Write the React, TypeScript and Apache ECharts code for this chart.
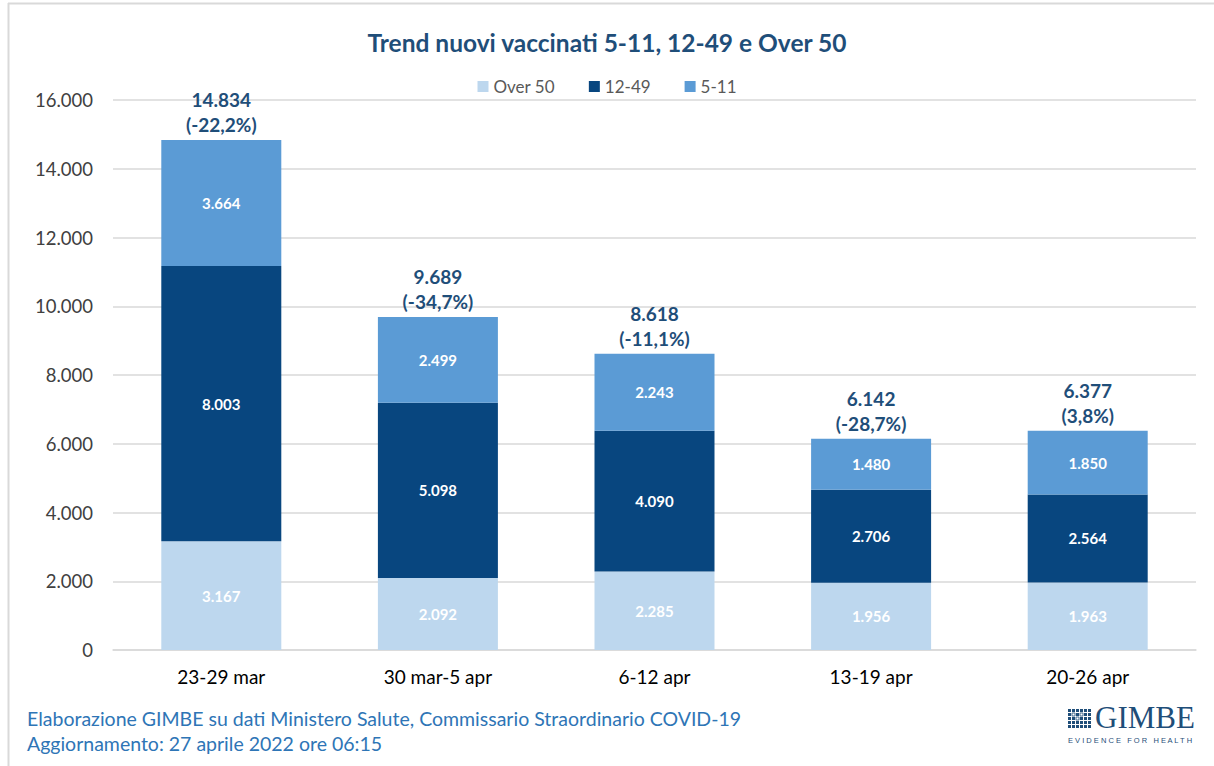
import React, { useEffect, useRef } from "react";
import * as echarts from "echarts";

const categories = ["23-29 mar", "30 mar-5 apr", "6-12 apr", "13-19 apr", "20-26 apr"];
const over50 = [3167, 2092, 2285, 1956, 1963];
const age12to49 = [8003, 5098, 4090, 2706, 2564];
const age5to11 = [3664, 2499, 2243, 1480, 1850];
const totals = [14834, 9689, 8618, 6142, 6377];
const pctChange = ["-22,2%", "-34,7%", "-11,1%", "-28,7%", "3,8%"];
const yTicks = { min: 0, max: 16000, interval: 2000 };

const FONT = "Lato, 'Noto Sans', sans-serif";
const fmt = (v: number) => String(v).replace(/\B(?=(\d{3})+(?!\d))/g, ".");

function logoIcon(): any[] {
  const els: any[] = [];
  const x0 = 1068, y0 = 709, s = 3, g = 4;
  for (let r = 0; r < 5; r++) {
    for (let c = 0; c < 6; c++) {
      const isCheck = (r === 1 && c === 1) || (r === 2 && c === 2) || (r === 1 && c === 3);
      els.push({
        type: "rect",
        shape: { x: x0 + c * g, y: y0 + r * g, width: s, height: s },
        style: { fill: isCheck ? "#ffffff" : "#1f4e79", stroke: isCheck ? "#1f4e79" : undefined, lineWidth: 0.8 },
        silent: true,
      });
    }
  }
  return els;
}

export default function App() {
  const ref = useRef<HTMLDivElement>(null);
  useEffect(() => {
    if (!ref.current) return;
    const chart = echarts.init(ref.current, null, { renderer: "svg" });
    const insideLabel = (color: string) => ({
      show: true,
      position: "inside" as const,
      color,
      fontFamily: FONT,
      fontWeight: "bold" as const,
      fontSize: 15,
      formatter: (p: any) => fmt(p.value),
    });
    chart.setOption({
      animation: false,
      backgroundColor: "#ffffff",
      title: {
        text: "Trend nuovi vaccinati 5-11, 12-49 e Over 50",
        left: "center",
        top: 25,
        textStyle: { fontFamily: FONT, fontSize: 24.5, fontWeight: "bold", color: "#1f4e79" },
      },
      legend: {
        top: 73,
        left: "center",
        itemWidth: 11,
        itemHeight: 11,
        itemGap: 34,
        icon: "rect",
        textStyle: { fontFamily: FONT, fontSize: 17, color: "#595959" },
        data: ["Over 50", "12-49", "5-11"],
      },
      grid: { left: 113, right: 18, top: 100, bottom: 116 },
      xAxis: {
        type: "category",
        data: categories,
        axisTick: { show: false },
        axisLine: { lineStyle: { color: "#d9d9d9", width: 1.5 } },
        axisLabel: { fontFamily: FONT, fontSize: 19, color: "#000000", margin: 17 },
      },
      yAxis: {
        type: "value",
        min: yTicks.min,
        max: yTicks.max,
        interval: yTicks.interval,
        axisLine: { show: false },
        axisTick: { show: false },
        splitLine: { lineStyle: { color: "#d9d9d9", width: 1.5 } },
        axisLabel: { fontFamily: FONT, fontSize: 18.5, color: "#404040", margin: 20, formatter: (v: number) => fmt(v) },
      },
      series: [
        {
          name: "Over 50",
          type: "bar",
          stack: "t",
          barWidth: 120,
          data: over50,
          itemStyle: { color: "#bdd7ee" },
          label: insideLabel("#ffffff"),
        },
        {
          name: "12-49",
          type: "bar",
          stack: "t",
          barWidth: 120,
          data: age12to49,
          itemStyle: { color: "#08467f" },
          label: insideLabel("#ffffff"),
        },
        {
          name: "5-11",
          type: "bar",
          stack: "t",
          barWidth: 120,
          data: age5to11,
          itemStyle: { color: "#5b9bd5" },
          label: insideLabel("#ffffff"),
        },
        {
          name: "Totale",
          type: "scatter",
          symbolSize: 0,
          data: totals,
          silent: true,
          itemStyle: { opacity: 1, color: "#1f4e79" },
          label: {
            show: true,
            position: "top",
            distance: 3,
            fontFamily: FONT,
            fontWeight: "bold",
            fontSize: 19,
            lineHeight: 25,
            color: "#1f4e79",
            formatter: (p: any) => fmt(p.value) + "\n(" + pctChange[p.dataIndex] + ")",
          },
        },
      ],
      graphic: [
        { type: "line", shape: { x1: 8, y1: 3.5, x2: 1214, y2: 3.5 }, style: { stroke: "#d9d9d9", lineWidth: 2 }, silent: true },
        { type: "line", shape: { x1: 8.5, y1: 3, x2: 8.5, y2: 766 }, style: { stroke: "#d9d9d9", lineWidth: 2 }, silent: true },
        {
          type: "text",
          left: 27,
          top: 708,
          style: { text: "Elaborazione GIMBE su dati Ministero Salute, Commissario Straordinario COVID-19", fontFamily: FONT, fontSize: 19.5, fill: "#2e75b6" },
          silent: true,
        },
        {
          type: "text",
          left: 27,
          top: 733,
          style: { text: "Aggiornamento: 27 aprile 2022 ore 06:15", fontFamily: FONT, fontSize: 19.5, fill: "#2e75b6" },
          silent: true,
        },
        ...logoIcon(),
        {
          type: "text",
          left: 1095,
          top: 702,
          style: { text: "GIMBE", fontFamily: "'Liberation Serif', 'DejaVu Serif', serif", fontSize: 31, fill: "#1f4e79" },
          silent: true,
        },
        {
          type: "text",
          left: 1068,
          top: 736,
          style: { text: "E V I D E N C E   F O R   H E A L T H", fontFamily: "'Liberation Sans', sans-serif", fontSize: 7.5, fill: "#1f4e79" },
          silent: true,
        },
      ],
    });
    return () => chart.dispose();
  }, []);
  return <div ref={ref} style={{ position: "absolute", left: 0, top: 0, width: 1214, height: 766 }} />;
}
